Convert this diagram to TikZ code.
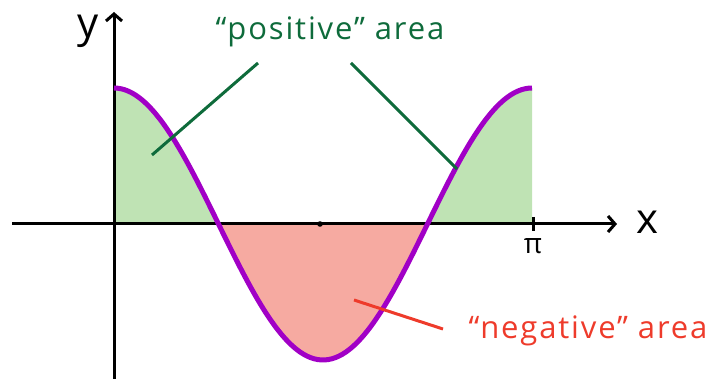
\documentclass[tikz,border=0pt]{standalone}
\usepackage{fontspec}
\setmainfont{Open Sans}
\usetikzlibrary{arrows.meta}
\definecolor{posfill}{HTML}{BFE3B4}
\definecolor{negfill}{HTML}{F6AAA1}
\definecolor{postext}{HTML}{0E6B3B}
\definecolor{negtext}{HTML}{EE3B2B}
\definecolor{curvec}{HTML}{A100C6}
\tikzset{
  axis/.style={line width=3pt, -{Straight Barb[length=7pt,width=16pt,line width=3pt]}},
  poslabel/.style={text=postext, font=\fontsize{31}{36}\selectfont\addfontfeatures{LetterSpace=6}},
  neglabel/.style={text=negtext, font=\fontsize{31}{36}\selectfont\addfontfeatures{LetterSpace=6}},
  posline/.style={draw=postext, line width=3pt},
  negline/.style={draw=negtext, line width=3pt},
  axlabel/.style={font=\fontsize{42}{46}\selectfont},
}
\begin{document}
\begin{tikzpicture}[x=1pt,y=-1pt]
\useasboundingbox (0,0) rectangle (718,379);
% fills
\fill[posfill] (114,224) -- plot[domain=114:218.5,samples=40,smooth] (\x,{224-136*cos(0.861244*(\x-114))}) -- cycle;
\fill[posfill] (427.5,224) -- plot[domain=427.5:532,samples=40,smooth] (\x,{224-136*cos(0.861244*(\x-114))}) -- (532,224) -- cycle;
\fill[negfill] plot[domain=218.5:427.5,samples=60,smooth] (\x,{224-136*cos(0.861244*(\x-114))}) -- cycle;
% axes
\coordinate (xs) at (12,224);
\coordinate (xe) at (617,224);
\coordinate (ys) at (114,379);
\coordinate (ye) at (114,12);
\draw[axis] (xs) -- (xe);
\draw[axis] (ys) -- (ye);
% ticks
\coordinate (tpi1) at (533,217);
\coordinate (tpi2) at (533,231);
\draw[line width=3pt] (tpi1) -- (tpi2);
\fill (320,224) circle (2.8pt);
\node[axlabel] (xl) at (647,222) {x};
\node[axlabel] (yl) at (88,31) {y};
\node[font=\fontsize{28}{30}\selectfont] (pil) at (533,246) {π};
% curve
\draw[curvec, line width=5pt] plot[domain=114:532,samples=120,smooth] (\x,{224-136*cos(0.861244*(\x-114))});
% labels
\node[poslabel] (pos) at (330,32) {“positive” area};
\node[neglabel] (neg) at (588,331) {“negative” area};
\coordinate (p1a) at (258,63);
\coordinate (p1b) at (152,155);
\coordinate (p2a) at (351,63);
\coordinate (p2b) at (457,169);
\coordinate (n1a) at (354,300);
\coordinate (n1b) at (443,329);
\draw[posline] (p1a) -- (p1b);
\draw[posline] (p2a) -- (p2b);
\draw[negline] (n1a) -- (n1b);
\end{tikzpicture}
\end{document}
